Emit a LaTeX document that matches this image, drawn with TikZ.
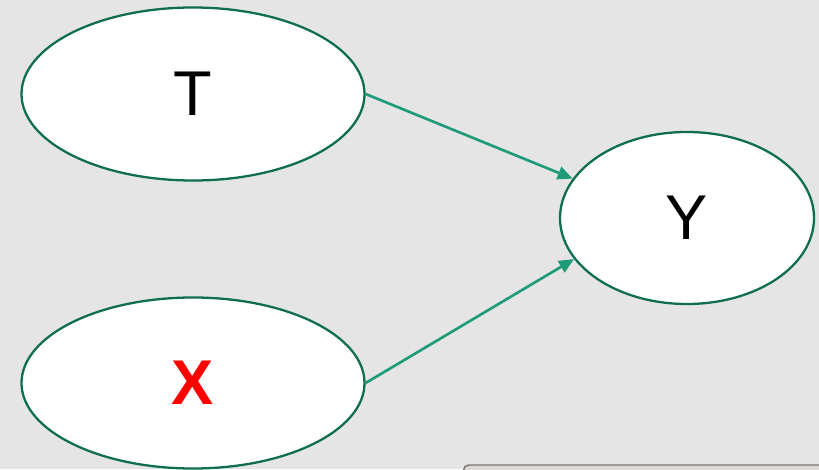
\documentclass[tikz,border=0pt]{standalone}
\usepackage{fontspec}
\setmainfont{Liberation Sans}
\usetikzlibrary{shapes.geometric,arrows.meta}

\definecolor{bgray}{HTML}{E5E5E5}
\definecolor{edgegreen}{HTML}{0F6E50}
\definecolor{arrgreen}{HTML}{1E9B78}
\definecolor{panelgray}{HTML}{DCDAD7}
\definecolor{panelline}{HTML}{7A7570}

\begin{document}
\begin{tikzpicture}[
		var/.style={ellipse, draw=edgegreen, line width=1.3pt, fill=white, inner sep=0pt, font=\fontsize{36}{40}\selectfont},
		arr/.style={-{Triangle[length=3mm, width=2.6mm]}, draw=arrgreen, fill=arrgreen, line width=1.5pt},
	]

	% Canvas
	\fill[bgray] (0, 0) rectangle (16.38, 9.38);
	\useasboundingbox (0, 0) rectangle (16.38, 9.38);

	% Variables
	\node[var, minimum width=6.86cm, minimum height=3.46cm] (t) at (3.86, 7.50) {T};
	\node[var, minimum width=6.86cm, minimum height=3.42cm] (x) at (3.86, 1.72) {\textcolor{red}{\bfseries X}};
	\node[var, minimum width=5.08cm, minimum height=3.44cm] (y) at (13.74, 5.02) {Y};

	% Edges
	\draw[arr] (t.east) -- (y.161);
	\draw[arr] (x.east) -- (y.200);

	% Panel edge at the bottom
	\draw[panelline, fill=panelgray, line width=0.8pt, rounded corners=3pt] (9.27, -0.5) -- (9.27, 0.08) -- (16.6, 0.08) -- (16.6, -0.5);

\end{tikzpicture}
\end{document}
